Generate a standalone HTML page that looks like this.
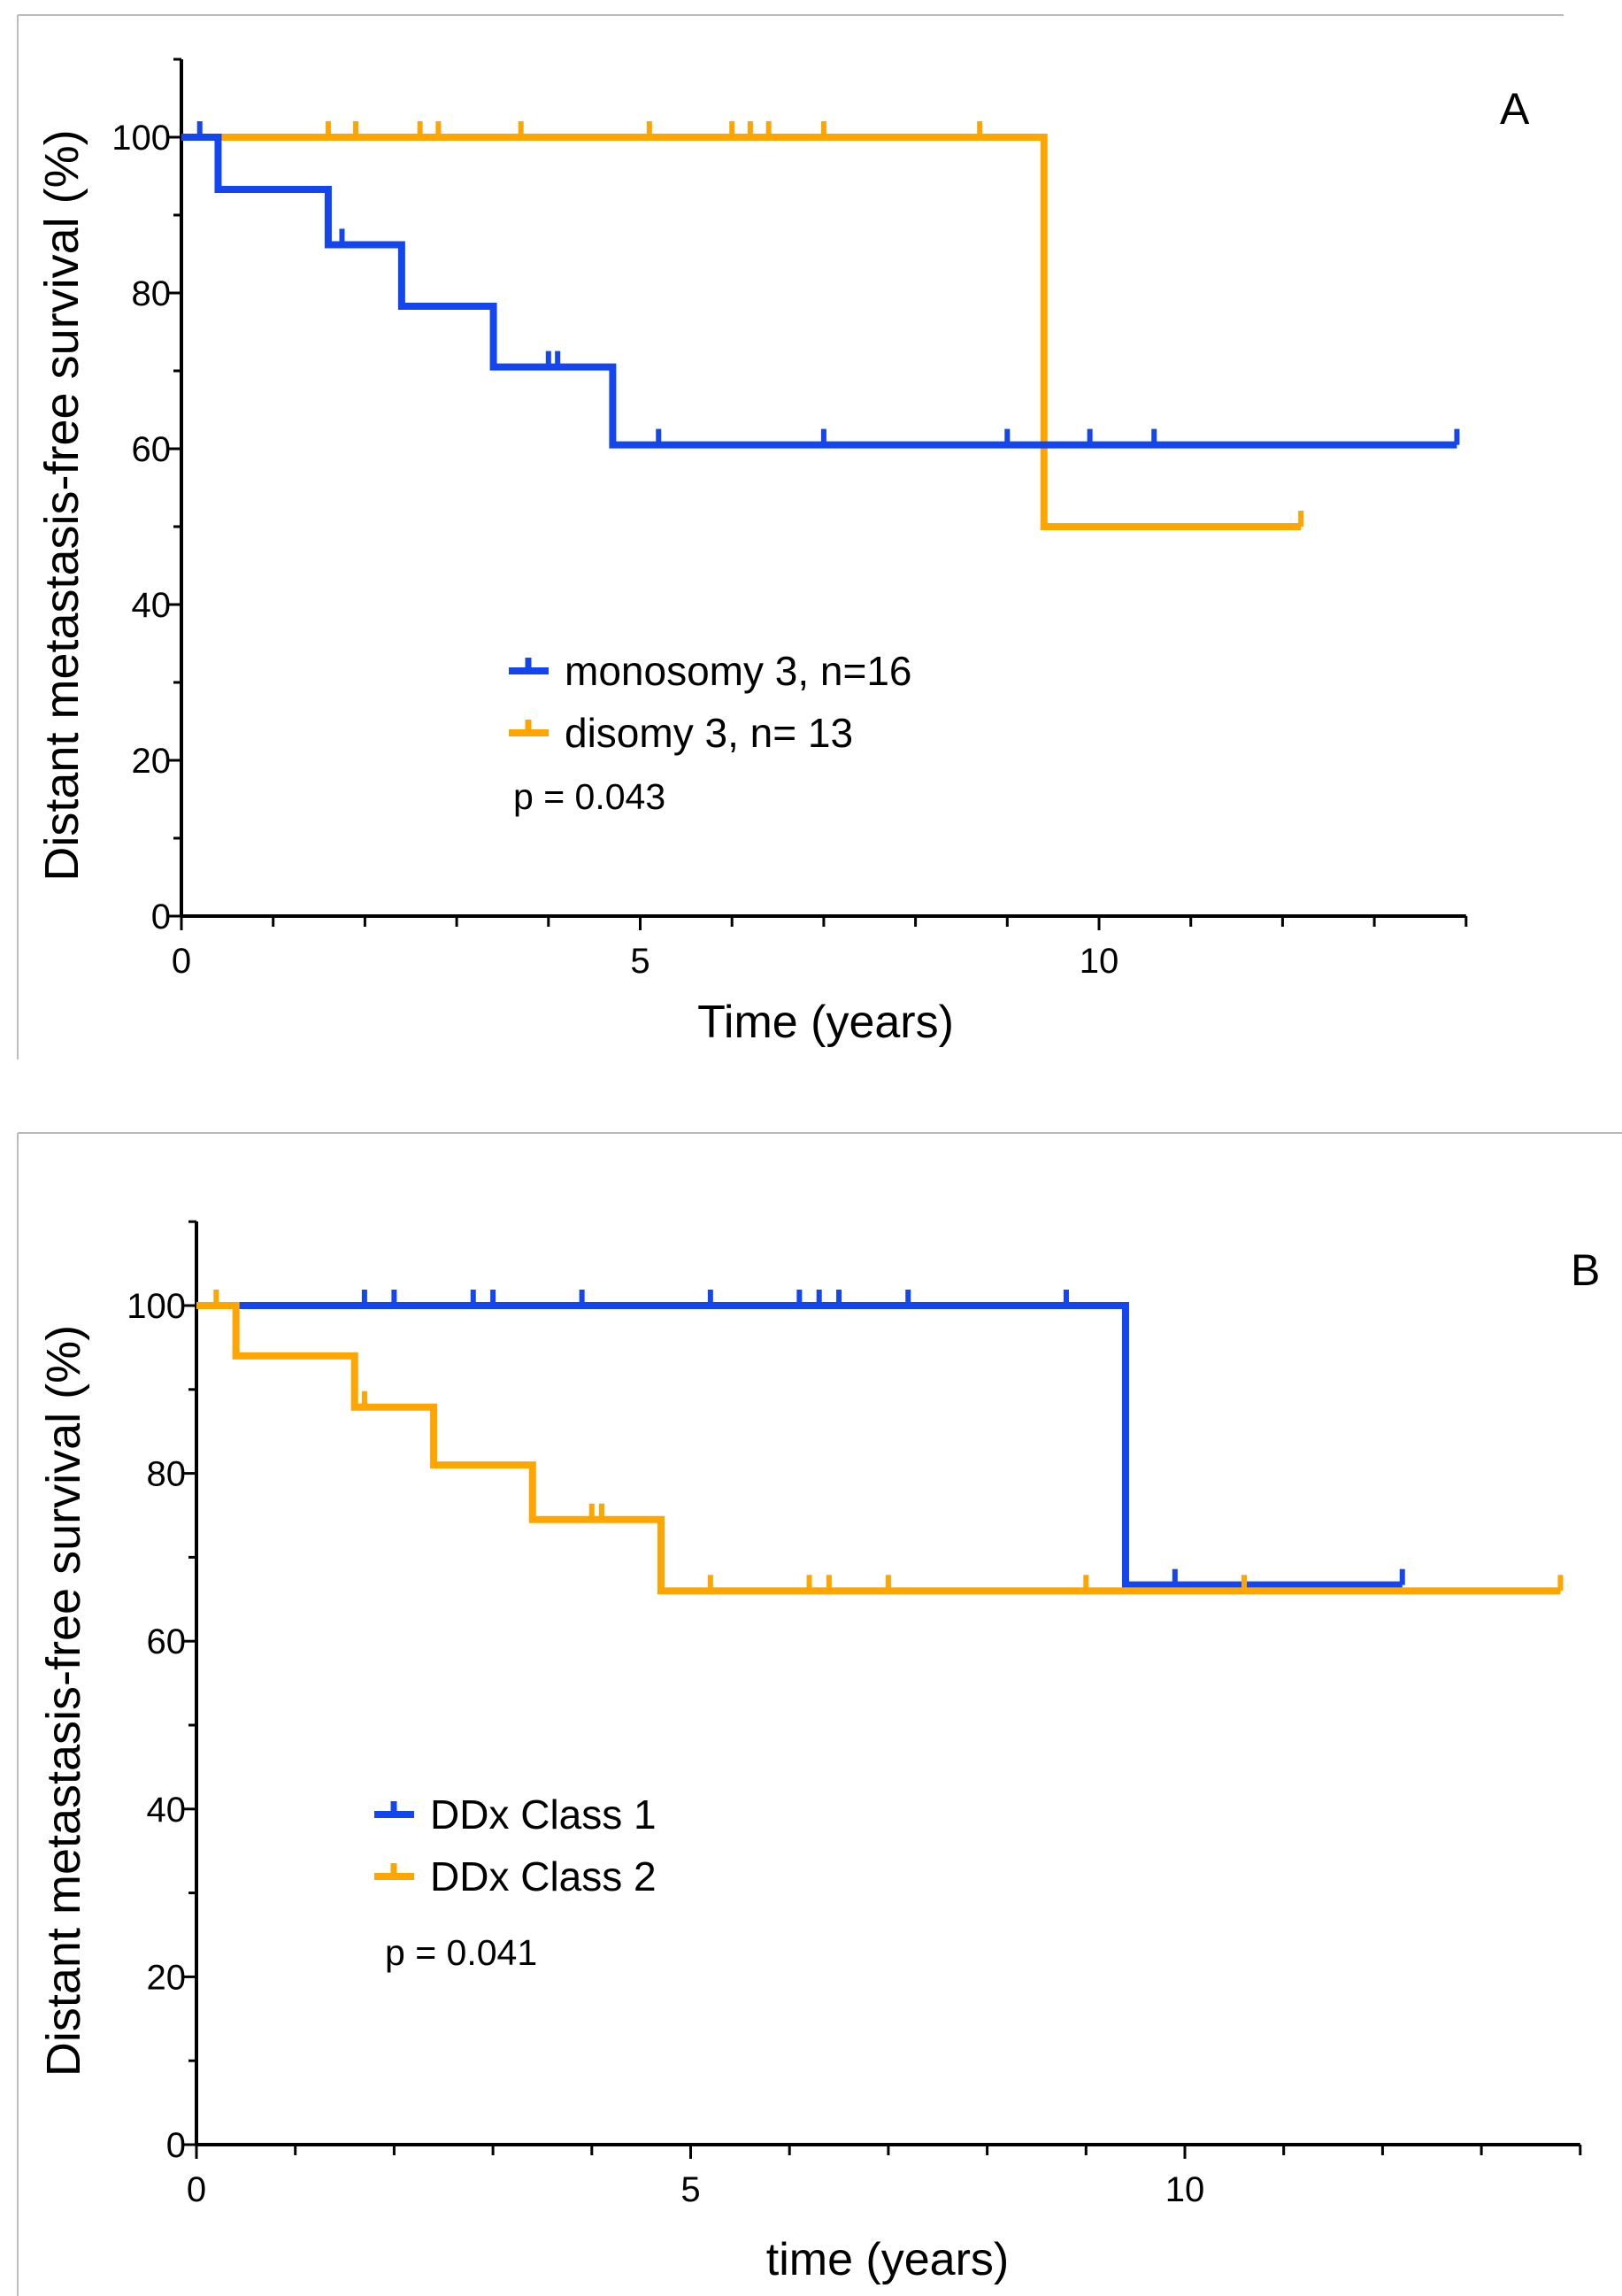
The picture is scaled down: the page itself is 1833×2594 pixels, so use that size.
<!DOCTYPE html>
<html><head><meta charset="utf-8"><style>
html,body{margin:0;padding:0;background:#fff;}
svg{display:block;font-family:"Liberation Sans",sans-serif;}
</style></head><body>
<svg id="fig" width="1833" height="2594" viewBox="0 0 1833 2594" xmlns="http://www.w3.org/2000/svg">
<line x1="20" y1="17" x2="1767" y2="17" stroke="#bbb" stroke-width="2"/>
<line x1="20" y1="17" x2="20" y2="1197" stroke="#bbb" stroke-width="2"/>
<line x1="20" y1="1280" x2="1833" y2="1280" stroke="#bbb" stroke-width="2"/>
<line x1="20" y1="1280" x2="20" y2="2594" stroke="#bbb" stroke-width="2"/>
<g id="pa"></g>
<g id="pb"></g>
</svg>
<script>
// Panel A data
const aBlueSteps = [[0,100],[0.4,93.3],[1.6,86.2],[2.4,78.3],[3.4,70.5],[4.7,60.5]];
const aBlueEnd = 13.9;
const aBlueCens = [0.2,1.75,4.0,4.1,5.2,7.0,9.0,9.9,10.6,13.9];
const aOrangeSteps = [[0,100],[9.4,50]];
const aOrangeEnd = 12.2;
const aOrangeCens = [1.6,1.9,2.6,2.8,3.7,5.1,6.0,6.2,6.4,7.0,8.7,12.2];
// Panel B data
const bBlueSteps = [[0,100],[9.4,66.7]];
const bBlueEnd = 12.2;
const bBlueCens = [1.7,2.0,2.8,3.0,3.9,5.2,6.1,6.3,6.5,7.2,8.8,9.9,12.2];
const bOrangeSteps = [[0,100],[0.4,94],[1.6,87.9],[2.4,81],[3.4,74.5],[4.7,66]];
const bOrangeEnd = 13.8;
const bOrangeCens = [0.2,1.7,4.0,4.1,5.2,6.2,6.4,7.0,9.0,10.6,13.8];
const yTicks = [0,20,40,60,80,100];
const xTicks = [0,5,10];

const NS="http://www.w3.org/2000/svg";
function mk(parent,tag,attrs,text){const e=document.createElementNS(NS,tag);for(const k in attrs)e.setAttribute(k,attrs[k]);if(text!==undefined)e.textContent=text;parent.appendChild(e);return e;}
const BLUE="#1446f0", ORANGE="#ffa500";

function survAt(steps,t){let v=steps[0][1];for(const s of steps){if(s[0]<=t)v=s[1];}return v;}

function panel(g,cfg){
  const X=t=>cfg.x0+t*cfg.xs, Y=v=>cfg.y0-v*cfg.ys;
  let e;
  e=mk(g,'line',{x1:cfg.x0,y1:cfg.top,x2:cfg.x0,y2:cfg.y0,stroke:'#000','stroke-width':4});
  
  
  e=mk(g,'line',{x1:cfg.x0,y1:cfg.y0,x2:X(14),y2:cfg.y0,stroke:'#000','stroke-width':4});
  
  
  for(let v=0;v<=110;v+=10){
    const major=v%20===0&&v<=100;
    e=mk(g,'line',{x1:cfg.x0-(major?14:9),y1:Y(v),x2:cfg.x0,y2:Y(v),stroke:'#000','stroke-width':3});
    
    
  }
  for(const v of yTicks){
    e=mk(g,'text',{x:cfg.x0-12,y:Y(v)+14,'text-anchor':'end','font-size':40,fill:'#000'},String(v));
    
    
  }
  for(let t=0;t<=14;t++){
    e=mk(g,'line',{x1:X(t),y1:cfg.y0,x2:X(t),y2:cfg.y0+(t%5===0?16:12),stroke:'#000','stroke-width':3});
    
    
  }
  for(const t of xTicks){
    e=mk(g,'text',{x:X(t),y:cfg.y0+64,'text-anchor':'middle','font-size':40,fill:'#000'},String(t));
    
    
  }
  e=mk(g,'text',{x:0,y:0,transform:`translate(${cfg.ytx},${(cfg.top+cfg.y0)/2+20}) rotate(-90)`,'text-anchor':'middle','font-size':54,fill:'#000'},'Distant metastasis-free survival (%)');
  
  
  e=mk(g,'text',{x:cfg.xtx,y:cfg.xty,'text-anchor':'middle','font-size':52,fill:'#000'},cfg.xtitle);
  
  
  e=mk(g,'text',{x:cfg.lx,y:cfg.ly,'font-size':50,fill:'#000'},cfg.letter);
  
  
  function series(steps,end,cens,color,name){
    let d=`M${X(steps[0][0])},${Y(steps[0][1])}`;
    for(let i=1;i<steps.length;i++){d+=` H${X(steps[i][0])} V${Y(steps[i][1])}`;}
    d+=` H${X(end)}`;
    e=mk(g,'path',{d:d,fill:'none',stroke:color,'stroke-width':8});
    
    
    for(const c of cens){
      const v=survAt(steps,c);
      e=mk(g,'line',{x1:X(c),y1:Y(v),x2:X(c),y2:Y(v)-18,stroke:color,'stroke-width':6});
      
      
    }
  }
  for(const s of cfg.series){series(s.steps,s.end,s.cens,s.color,s.name);}
  cfg.legend.forEach((L,i)=>{
    const yy=cfg.legY+i*70;
    e=mk(g,'line',{x1:cfg.legX,y1:yy,x2:cfg.legX+45,y2:yy,stroke:L.color,'stroke-width':8});
    
    
    e=mk(g,'line',{x1:cfg.legX+22,y1:yy,x2:cfg.legX+22,y2:yy-15,stroke:L.color,'stroke-width':7});
    
    
    e=mk(g,'text',{x:cfg.legX+63,y:yy+16,'font-size':46,fill:'#000'},L.label);
    
    
  });
  e=mk(g,'text',{x:cfg.px,y:cfg.py,'font-size':41,fill:'#000'},cfg.ptext);
  
  
}

panel(document.getElementById('pa'),{x0:205,xs:103.7,y0:1035,ys:8.8,top:67,ytx:88,xtx:933,xty:1172,xtitle:'Time (years)',lx:1695,ly:140,letter:'A',
  series:[{steps:aOrangeSteps,end:aOrangeEnd,cens:aOrangeCens,color:ORANGE,name:'disomy-3'},{steps:aBlueSteps,end:aBlueEnd,cens:aBlueCens,color:BLUE,name:'monosomy-3'}],
  legend:[{color:BLUE,label:'monosomy 3, n=16'},{color:ORANGE,label:'disomy 3, n= 13'}],legX:575,legY:758,px:580,py:914,ptext:'p = 0.043'});
panel(document.getElementById('pb'),{x0:222,xs:111.7,y0:2423,ys:9.48,top:1380,ytx:90,xtx:1003,xty:2570,xtitle:'time (years)',lx:1775,ly:1452,letter:'B',
  series:[{steps:bBlueSteps,end:bBlueEnd,cens:bBlueCens,color:BLUE,name:'ddx-class-1'},{steps:bOrangeSteps,end:bOrangeEnd,cens:bOrangeCens,color:ORANGE,name:'ddx-class-2'}],
  legend:[{color:BLUE,label:'DDx Class 1'},{color:ORANGE,label:'DDx Class 2'}],legX:423,legY:2050,px:435,py:2220,ptext:'p = 0.041'});
</script>
</body></html>
